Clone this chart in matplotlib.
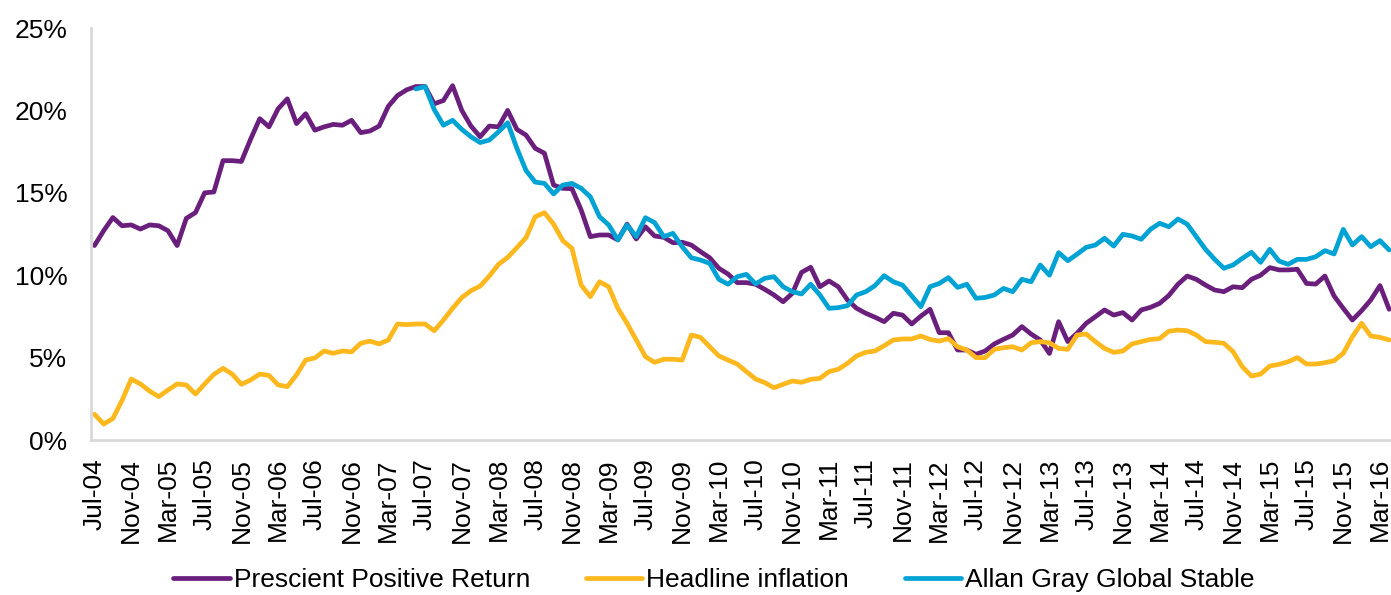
import numpy as np
import pandas as pd
import matplotlib
matplotlib.use("Agg")
import matplotlib.pyplot as plt
from matplotlib.ticker import FuncFormatter

plt.rcParams["font.family"] = ["Liberation Sans", "DejaVu Sans"]

# monthly data, Jul-04 .. Apr-16
months = pd.date_range("2004-07-01", periods=142, freq="MS")

prescient = [
    11.8, 12.7, 13.5, 13.0, 13.05, 12.8, 13.05, 13.0, 12.7, 11.8,
    13.45, 13.8, 15.0, 15.05, 16.95, 16.95, 16.9, 18.25, 19.5, 19.0,
    20.1, 20.7, 19.2, 19.8, 18.8, 19.0, 19.15, 19.1, 19.4, 18.65,
    18.75, 19.05, 20.25, 20.9, 21.25, 21.45, 21.45, 20.4, 20.6, 21.5,
    20.0, 19.05, 18.4, 19.05, 19.0, 20.0, 18.85, 18.5, 17.7, 17.4,
    15.47, 15.27, 15.25, 13.96, 12.34, 12.44, 12.44, 12.14, 13.1, 12.2,
    12.94, 12.38, 12.3, 11.97, 12.0, 11.83, 11.43, 11.06, 10.42, 10.07,
    9.55, 9.55, 9.45, 9.14, 8.8, 8.39, 8.9, 10.17, 10.48, 9.3,
    9.65, 9.3, 8.5, 7.99, 7.69, 7.45, 7.18, 7.69, 7.58, 7.04,
    7.52, 7.93, 6.51, 6.51, 5.46, 5.46, 5.2, 5.4, 5.83, 6.11,
    6.37, 6.88, 6.43, 6.07, 5.25, 7.18, 5.97, 6.47, 7.08, 7.48,
    7.89, 7.58, 7.73, 7.28, 7.89, 8.05, 8.29, 8.77, 9.45, 9.95,
    9.75, 9.4, 9.1, 9.0, 9.3, 9.24, 9.75, 10.0, 10.46, 10.32,
    10.32, 10.36, 9.5, 9.46, 9.95, 8.74, 7.99, 7.28, 7.85, 8.5,
    9.37, 7.93,
]

inflation = [
    1.56, 0.97, 1.3, 2.4, 3.7, 3.4, 2.97, 2.63, 3.03, 3.4,
    3.34, 2.79, 3.4, 3.98, 4.35, 4.0, 3.38, 3.64, 4.0, 3.92,
    3.34, 3.24, 3.95, 4.85, 4.98, 5.4, 5.26, 5.4, 5.35, 5.87,
    6.0, 5.83, 6.07, 7.04, 7.0, 7.04, 7.04, 6.63, 7.28, 7.99,
    8.64, 9.06, 9.34, 9.95, 10.66, 11.08, 11.67, 12.28, 13.55, 13.79,
    13.1, 12.1, 11.63, 9.4, 8.7, 9.6, 9.3, 7.99, 7.08, 6.07,
    5.06, 4.71, 4.9, 4.9, 4.85, 6.37, 6.23, 5.66, 5.1, 4.85,
    4.61, 4.15, 3.7, 3.48, 3.17, 3.38, 3.58, 3.5, 3.68, 3.74,
    4.15, 4.29, 4.65, 5.1, 5.32, 5.4, 5.72, 6.07, 6.13, 6.13,
    6.31, 6.1, 6.0, 6.15, 5.66, 5.46, 5.0, 5.0, 5.5, 5.6,
    5.66, 5.46, 5.9, 5.97, 5.9, 5.56, 5.5, 6.37, 6.43, 5.97,
    5.56, 5.32, 5.4, 5.83, 5.97, 6.1, 6.15, 6.6, 6.67, 6.63,
    6.37, 5.97, 5.93, 5.87, 5.36, 4.45, 3.88, 4.0, 4.49, 4.59,
    4.75, 5.0, 4.61, 4.61, 4.69, 4.81, 5.26, 6.27, 7.08, 6.31,
    6.23, 6.07,
]

# Allan Gray series starts in Jun-07
allan_gray = [np.nan] * 35 + [
    21.3, 21.45, 20.05, 19.1, 19.4,
    18.85, 18.4, 18.05, 18.2, 18.7, 19.25, 17.7, 16.35, 15.65, 15.57,
    14.93, 15.47, 15.57, 15.27, 14.76, 13.55, 13.05, 12.14, 13.05, 12.34,
    13.49, 13.19, 12.34, 12.54, 11.73, 11.06, 10.92, 10.72, 9.75, 9.45,
    9.91, 10.05, 9.47, 9.81, 9.91, 9.3, 9.0, 8.86, 9.45, 8.8,
    7.99, 8.03, 8.15, 8.8, 9.0, 9.37, 9.97, 9.6, 9.4, 8.74,
    8.09, 9.3, 9.5, 9.85, 9.26, 9.45, 8.6, 8.65, 8.8, 9.2,
    9.0, 9.75, 9.6, 10.62, 10.0, 11.37, 10.88, 11.27, 11.69, 11.83,
    12.24, 11.77, 12.48, 12.38, 12.18, 12.78, 13.15, 12.94, 13.41, 13.1,
    12.34, 11.57, 10.96, 10.42, 10.62, 11.02, 11.39, 10.78, 11.57, 10.86,
    10.66, 10.96, 10.96, 11.12, 11.49, 11.29, 12.78, 11.83, 12.34, 11.73,
    12.1, 11.53,
]

labels = [m.strftime("%b-%y") for m in months]
x = np.arange(len(months))

fig = plt.figure(figsize=(13.91, 5.95), dpi=100)
ax = fig.add_axes([91 / 1391, 155 / 595, 1300 / 1391, 412 / 595])

line_kw = dict(lw=3.4, solid_joinstyle="round", solid_capstyle="round")
ax.plot(x, prescient, color="#6B1F7D", label="Prescient Positive Return", **line_kw)
ax.plot(x, inflation, color="#FDB81E", label="Headline inflation", **line_kw)
ax.plot(x, allan_gray, color="#00A3D4", label="Allan Gray Global Stable", **line_kw)

ax.set_xlim(-0.38, 141.2)
ax.set_ylim(0, 25)
ax.set_yticks(np.arange(0, 26, 5))
ax.yaxis.set_major_formatter(FuncFormatter(lambda v, p: f"{v:.0f}%"))
ax.set_xticks(x[::4])
ax.set_xticklabels(labels[::4], rotation=90, ha="center", va="top")
ax.tick_params(axis="both", length=0, labelsize=19, colors="black")
ax.tick_params(axis="y", pad=17)
ax.tick_params(axis="x", pad=13)

for side in ["top", "right"]:
    ax.spines[side].set_visible(False)
for side in ["left", "bottom"]:
    ax.spines[side].set_color("#D9D9D9")
    ax.spines[side].set_linewidth(2)

fig.legend(
    loc="center",
    bbox_to_anchor=(714 / 1391, 1 - 580 / 595),
    ncol=3,
    frameon=False,
    fontsize=19,
    handlelength=2.15,
    handletextpad=0.15,
    columnspacing=2.1,
)

fig.savefig("out.png", dpi=100)
